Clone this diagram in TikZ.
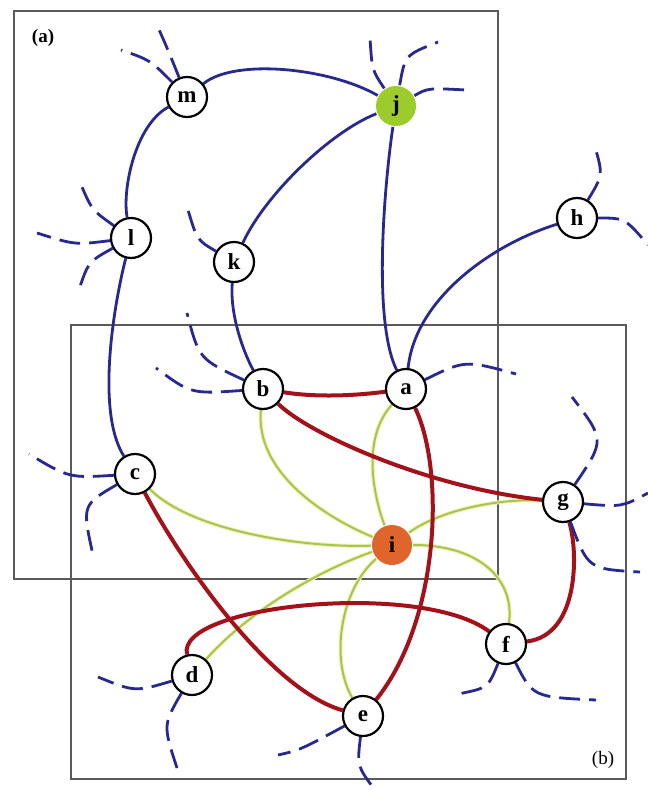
\documentclass[tikz,border=0pt]{standalone}
\usepackage{fontspec}
\setmainfont{Liberation Serif}
\usetikzlibrary{backgrounds}
\definecolor{navy}{HTML}{28288E}
\definecolor{dred}{HTML}{A3121A}
\definecolor{ygreen}{HTML}{A9C452}
\definecolor{yhalo}{HTML}{EEF4B0}
\definecolor{jfill}{HTML}{9CCB2C}
\definecolor{ifill}{HTML}{E0652A}
\definecolor{framec}{HTML}{5A5A5A}
\begin{document}
\begin{tikzpicture}[x=1pt,y=-1pt,
  vtx/.style={circle,draw=black,line width=2.2pt,fill=white,minimum size=40pt,inner sep=0pt,font=\fontsize{23}{23}\selectfont\bfseries},
  bedge/.style={draw=navy,line width=2.8pt},
  redge/.style={draw=dred,line width=4pt},
  yedge/.style={draw=yhalo,line width=1pt,double=ygreen,double distance=2pt},
  stub/.style={draw=navy,line width=2.8pt,dash pattern=on 21pt off 9pt},
  framebox/.style={draw=framec,line width=1.5pt},
  lbl/.style={font=\fontsize{19}{19}\selectfont}]
\useasboundingbox (0,0) rectangle (648,790);

% nodes
\node[vtx] (m) at (187,97) {m};
\node[vtx] (l) at (131,238) {l};
\node[vtx] (k) at (234,262) {k};
\node[vtx,draw=none,fill=jfill] (j) at (396,106) {j};
\node[vtx] (h) at (577,218) {h};
\node[vtx] (b) at (263,389) {b};
\node[vtx] (c) at (135,474) {c};
\node[vtx] (a) at (406,389) {a};
\node[vtx] (g) at (563,502) {g};
\node[vtx,draw=none,fill=ifill] (i) at (392,545) {i};
\node[vtx] (d) at (192,675) {d};
\node[vtx] (e) at (363,716) {e};
\node[vtx] (f) at (506,644) {f};

\node[lbl,font=\fontsize{19}{19}\selectfont\bfseries] (la) at (43,38) {(a)};
\node[lbl] (lb) at (603,760) {(b)};

% free ends of stubs
\coordinate (ms1) at (157,25);
\coordinate (ms2) at (121,50);
\coordinate (ls1) at (37,233);
\coordinate (ls2) at (82,187);
\coordinate (ls3) at (78,293);
\coordinate (ks1) at (188,210);
\coordinate (js1) at (370,38);
\coordinate (js2) at (438,42);
\coordinate (js3) at (466,90);
\coordinate (hs1) at (595,147);
\coordinate (hs2) at (648,245);
\coordinate (as1) at (516,374);
\coordinate (bs1) at (187,313);
\coordinate (bs2) at (156,368);
\coordinate (cs1) at (29,454);
\coordinate (cs2) at (93,555);
\coordinate (gs1) at (648,493);
\coordinate (gs2) at (640,572);
\coordinate (gs3) at (572,397);
\coordinate (ds1) at (98,677);
\coordinate (ds2) at (177,768);
\coordinate (es1) at (278,755);
\coordinate (es2) at (375,790);
\coordinate (fs1) at (458,694);
\coordinate (fs2) at (596,700);

\begin{scope}[on background layer]
% frames
\draw[framebox] (14,11) rectangle (498,579);
\draw[framebox] (71,325) rectangle (626,779);

% yellow-green edges
\draw[yedge] (i) .. controls (320,515) and (255,470) .. (b);
\draw[yedge] (i) .. controls (375,500) and (360,440) .. (a);
\draw[yedge] (i) .. controls (300,548) and (190,530) .. (c);
\draw[yedge] (i) .. controls (440,510) and (500,498) .. (g);
\draw[yedge] (i) .. controls (480,545) and (515,580) .. (f);
\draw[yedge] (i) .. controls (320,570) and (250,610) .. (d);
\draw[yedge] (i) .. controls (340,590) and (330,660) .. (e);

% blue edges
\draw[bedge] (m) .. controls (235,58) and (330,68) .. (j);
\draw[bedge] (m) .. controls (135,125) and (122,190) .. (l);
\draw[bedge] (j) .. controls (330,132) and (265,195) .. (k);
\draw[bedge] (j) .. controls (385,180) and (372,320) .. (a);
\draw[bedge] (l) .. controls (115,300) and (95,410) .. (c);
\draw[bedge] (k) .. controls (230,310) and (240,345) .. (b);
\draw[bedge] (h) .. controls (490,245) and (415,300) .. (a);

% red edges
\draw[redge] (b) .. controls (320,398) and (360,395) .. (a);
\draw[redge] (b) .. controls (310,435) and (430,488) .. (g);
\draw[redge] (a) .. controls (445,470) and (440,620) .. (e);
\draw[redge] (c) .. controls (180,560) and (270,690) .. (e);
\draw[redge] (g) .. controls (578,550) and (580,635) .. (f);
\draw[redge] (d) .. controls (175,605) and (420,580) .. (f);

% dashed stubs
\draw[stub] (m) .. controls (168,50) .. (ms1);
\draw[stub] (m) .. controls (150,60) .. (ms2);
\draw[stub] (l) .. controls (75,245) .. (ls1);
\draw[stub] (l) .. controls (92,210) .. (ls2);
\draw[stub] (l) .. controls (88,262) .. (ls3);
\draw[stub] (k) .. controls (197,240) .. (ks1);
\draw[stub] (j) .. controls (372,70) .. (js1);
\draw[stub] (j) .. controls (405,55) .. (js2);
\draw[stub] (j) .. controls (428,88) .. (js3);
\draw[stub] (h) .. controls (603,175) .. (hs1);
\draw[stub] (h) .. controls (625,218) .. (hs2);
\draw[stub] (a) .. controls (465,360) .. (as1);
\draw[stub] (b) .. controls (199,359) .. (bs1);
\draw[stub] (b) .. controls (191,394) .. (bs2);
\draw[stub] (c) .. controls (69,478) .. (cs1);
\draw[stub] (c) .. controls (82,505) .. (cs2);
\draw[stub] (g) .. controls (622,507) .. (gs1);
\draw[stub] (g) .. controls (588,569) .. (gs2);
\draw[stub] (g) .. controls (605,440) .. (gs3);
\draw[stub] (d) .. controls (135,692) .. (ds1);
\draw[stub] (d) .. controls (163,725) .. (ds2);
\draw[stub] (e) .. controls (300,750) .. (es1);
\draw[stub] (e) .. controls (357,766) .. (es2);
\draw[stub] (f) .. controls (488,688) .. (fs1);
\draw[stub] (f) .. controls (533,697) .. (fs2);
\end{scope}
\end{tikzpicture}
\end{document}
